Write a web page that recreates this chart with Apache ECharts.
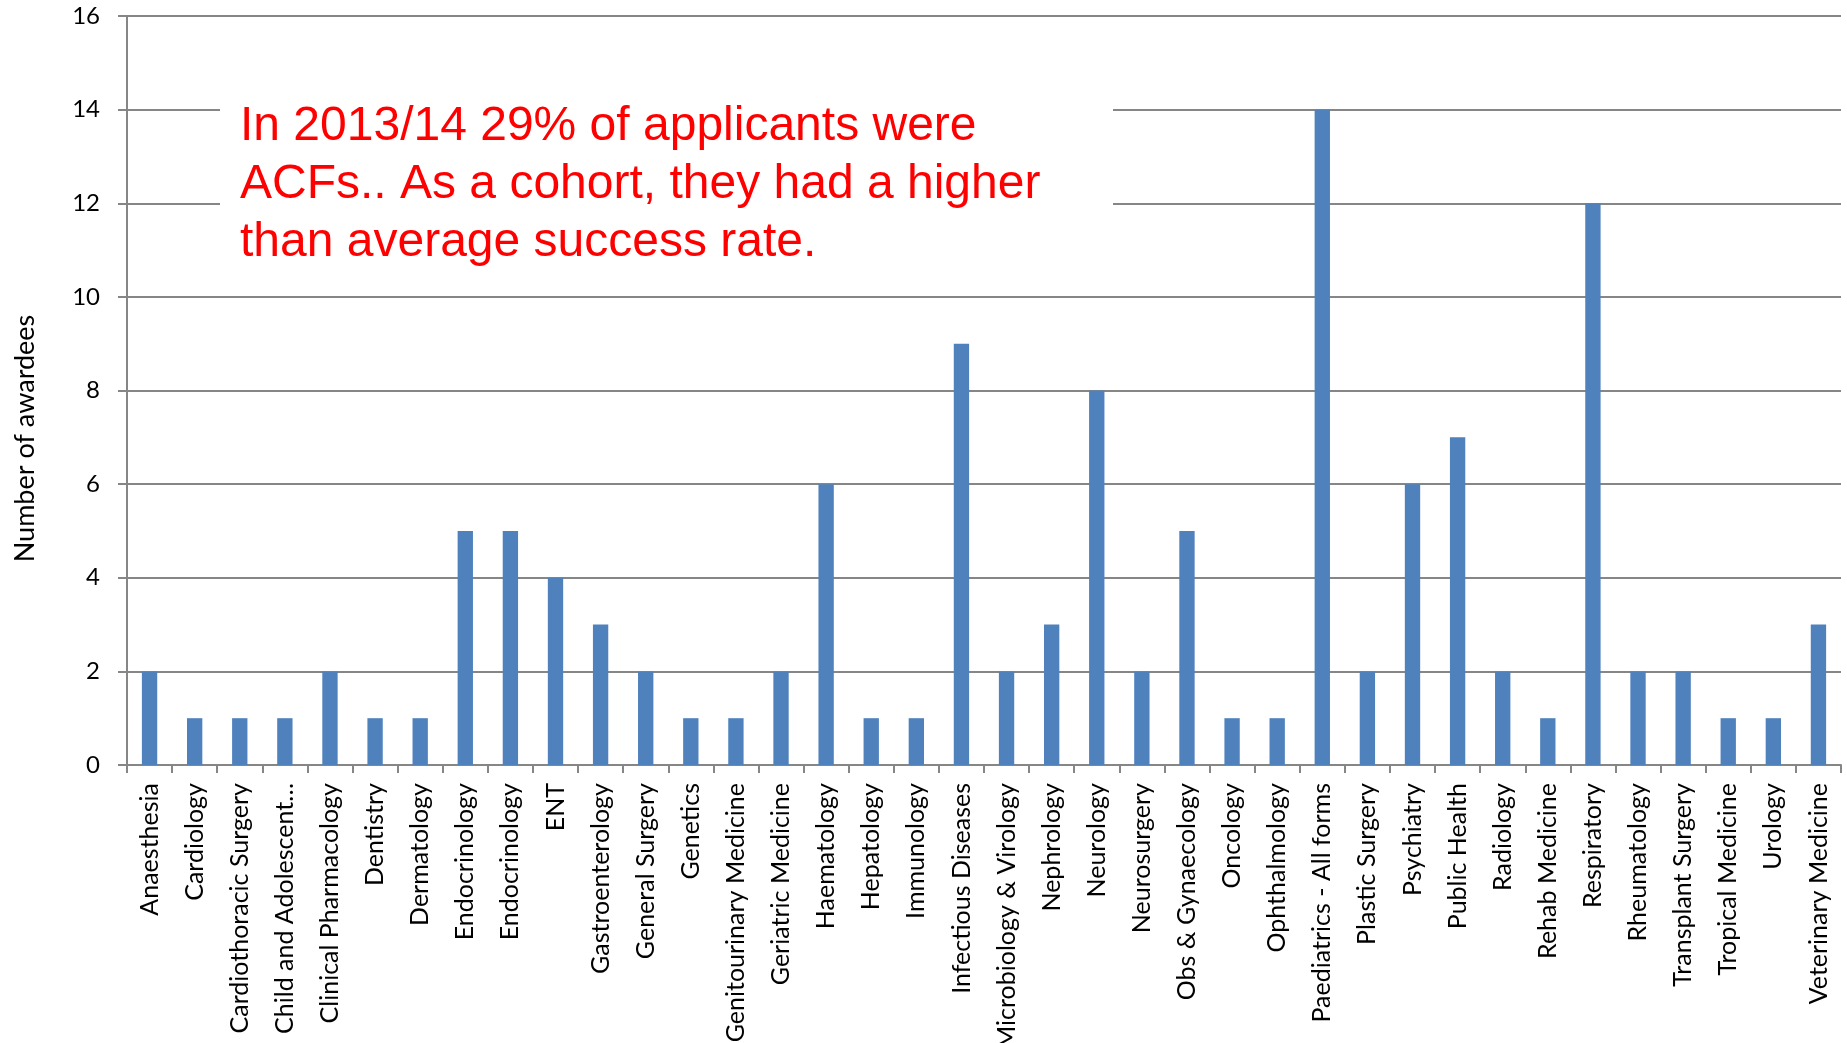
<!DOCTYPE html>
<html>
<head>
<meta charset="utf-8">
<script src="https://cdn.jsdelivr.net/npm/echarts@6/dist/echarts.min.js"></script>
<style>
html,body{margin:0;padding:0;background:#fff;}
#chart{width:1847px;height:1043px;}
</style>
</head>
<body>
<div id="chart"></div>
<script>
const categories = [
  "Anaesthesia","Cardiology","Cardiothoracic Surgery","Child and Adolescent…","Clinical Pharmacology",
  "Dentistry","Dermatology","Endocrinology","Endocrinology","ENT","Gastroenterology","General Surgery",
  "Genetics","Genitourinary Medicine","Geriatric Medicine","Haematology","Hepatology","Immunology",
  "Infectious Diseases","Microbiology & Virology","Nephrology","Neurology","Neurosurgery","Obs & Gynaecology",
  "Oncology","Ophthalmology","Paediatrics - All forms","Plastic Surgery","Psychiatry","Public Health",
  "Radiology","Rehab Medicine","Respiratory","Rheumatology","Transplant Surgery","Tropical Medicine",
  "Urology","Veterinary Medicine"
];
const awardees = [
  2,1,1,1,2,
  1,1,5,5,4,3,2,
  1,1,2,6,1,1,
  9,2,3,8,2,5,
  1,1,14,2,6,7,
  2,1,12,2,2,1,
  1,3
];
const yTicks = { min: 0, max: 16, interval: 2 };
const yAxisName = "Number of awardees";
const annotation = "In 2013/14 29% of applicants were\nACFs.. As a cohort, they had a higher\nthan average success rate.";

const FONT = "Lato, 'Open Sans', sans-serif";
const chart = echarts.init(document.getElementById('chart'));
chart.setOption({
  animation: false,
  backgroundColor: '#ffffff',
  grid: { left: 127, right: 6, top: 16, bottom: 278, containLabel: false, outerBoundsMode: 'none' },
  xAxis: {
    type: 'category',
    data: categories,
    boundaryGap: true,
    axisLine: { show: true, lineStyle: { color: '#868686', width: 2 } },
    axisTick: { show: true, alignWithLabel: false, length: 8, lineStyle: { color: '#868686', width: 2 } },
    axisLabel: { interval: 0, rotate: 90, margin: 18, color: '#000', fontFamily: FONT, fontSize: 25 },
    splitLine: { show: false }
  },
  yAxis: {
    type: 'value',
    min: yTicks.min, max: yTicks.max, interval: yTicks.interval,
    name: yAxisName,
    nameLocation: 'middle',
    nameGap: 88,
    nameRotate: 90,
    nameTextStyle: { color: '#000', fontFamily: FONT, fontSize: 27, padding: [0, 96, 0, 0] },
    axisLine: { show: true, lineStyle: { color: '#868686', width: 2 } },
    axisTick: { show: true, length: 9, lineStyle: { color: '#868686', width: 2 } },
    axisLabel: { margin: 27, color: '#000', fontFamily: FONT, fontSize: 24 },
    splitLine: { show: true, lineStyle: { color: '#868686', width: 2 } }
  },
  series: [{
    type: 'bar',
    data: awardees,
    barWidth: '34%',
    itemStyle: { color: '#4F81BD' }
  }],
  graphic: [
    { type: 'rect', z: 100, shape: { x: 220, y: 95, width: 893, height: 190 },
      style: { fill: '#ffffff', stroke: null } },
    { type: 'text', z: 101, x: 240, y: 98, style: {
        text: annotation, fill: '#ff0000', fontFamily: "'Liberation Sans', Arial, sans-serif",
        fontSize: 48, lineHeight: 58
      } }
  ]
});
</script>
</body>
</html>
